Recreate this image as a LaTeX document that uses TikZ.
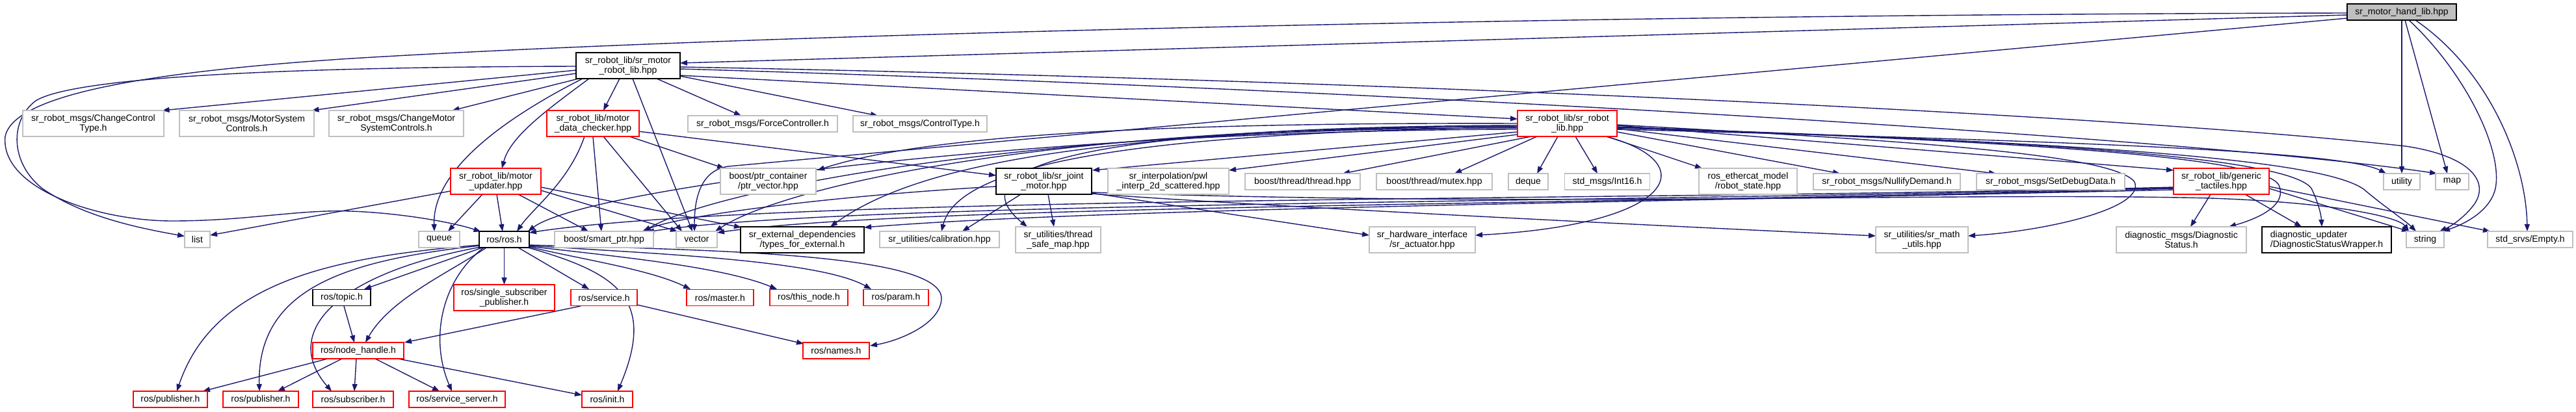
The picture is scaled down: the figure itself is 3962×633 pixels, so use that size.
\documentclass[tikz,border=0pt]{standalone}
\usepackage{fontspec}
\setmainfont{Liberation Sans}
\usetikzlibrary{arrows.meta,calc}
\definecolor{edgec}{HTML}{191970}
\definecolor{gborder}{HTML}{BFBFBF}
\pgfdeclarelayer{bg}
\pgfsetlayers{bg,main}
\tikzset{
 box/.style={rectangle, inner sep=0pt, line width=1.4pt, fill=white, align=center, font=\fontsize{14}{15}\selectfont},
 gbox/.style={box, draw=gborder},
 blkbox/.style={box, draw=black},
 redbox/.style={box, draw=red},
 rootbox/.style={box, draw=black, fill=gborder},
 one/.style={minimum height=25pt},
 two/.style={minimum height=40pt},
 arr/.style={draw=edgec, line width=1.4pt, -{Triangle[length=11pt,width=8pt]}},
}
\begin{document}
\begin{tikzpicture}[x=1pt,y=-1pt]
\useasboundingbox (0,0) rectangle (3962,633);
% row 0
\node[rootbox,one,minimum width=168pt] (hand) at (3694,18.5) {sr\_motor\_hand\_lib.hpp};
% row 1
\node[blkbox,two,minimum width=160pt] (mrl) at (966,101) {sr\_robot\_lib/sr\_motor\\\_robot\_lib.hpp};
% row 2
\node[gbox,two,minimum width=217pt] (cct) at (143.5,190) {sr\_robot\_msgs/ChangeControl\\Type.h};
\node[gbox,two,minimum width=207pt] (msc) at (379.5,190) {sr\_robot\_msgs/MotorSystem\\Controls.h};
\node[gbox,two,minimum width=207pt] (cmsc) at (609.5,190) {sr\_robot\_msgs/ChangeMotor\\SystemControls.h};
\node[redbox,two,minimum width=142pt] (mdc) at (912,190) {sr\_robot\_lib/motor\\\_data\_checker.hpp};
\node[gbox,one,minimum width=230pt] (force) at (1173,190.5) {sr\_robot\_msgs/ForceController.h};
\node[gbox,one,minimum width=206pt] (ctype) at (1415,190.5) {sr\_robot\_msgs/ControlType.h};
\node[redbox,two,minimum width=153pt] (srl) at (2410.5,190) {sr\_robot\_lib/sr\_robot\\\_lib.hpp};
% row 3
\node[redbox,two,minimum width=139pt] (mup) at (762.5,279) {sr\_robot\_lib/motor\\\_updater.hpp};
\node[gbox,two,minimum width=147pt] (ptrv) at (1181.5,279) {boost/ptr\_container\\/ptr\_vector.hpp};
\node[blkbox,two,minimum width=147pt] (sjm) at (1605.5,279) {sr\_robot\_lib/sr\_joint\\\_motor.hpp};
\node[gbox,two,minimum width=186pt] (pwl) at (1797,279) {sr\_interpolation/pwl\\\_interp\_2d\_scattered.hpp};
\node[gbox,one,minimum width=177pt] (thr) at (2003.5,279.5) {boost/thread/thread.hpp};
\node[gbox,one,minimum width=178pt] (mtx) at (2206,279.5) {boost/thread/mutex.hpp};
\node[gbox,one,minimum width=61pt] (deq) at (2350.5,279.5) {deque};
\node[gbox,one,minimum width=131pt] (i16) at (2472,279.5) {std\_msgs/Int16.h};
\node[gbox,two,minimum width=151pt] (rst) at (2688.5,279) {ros\_ethercat\_model\\/robot\_state.hpp};
\node[gbox,one,minimum width=226pt] (nul) at (2902,279.5) {sr\_robot\_msgs/NullifyDemand.h};
\node[gbox,one,minimum width=228pt] (sdd) at (3154,279.5) {sr\_robot\_msgs/SetDebugData.h};
\node[redbox,two,minimum width=147pt] (gt) at (3416.5,279) {sr\_robot\_lib/generic\\\_tactiles.hpp};
\node[gbox,one,minimum width=56pt] (uti) at (3694,279.5) {utility};
\node[gbox,one,minimum width=51pt] (map) at (3771.5,279.5) {map};
% row 4
\node[gbox,one,minimum width=39pt] (list) at (303.5,368.5) {list};
\node[gbox,one,minimum width=63pt] (queue) at (675.5,368.5) {queue};
\node[blkbox,one,minimum width=77pt] (ros) at (775.5,368.5) {ros/ros.h};
\node[gbox,one,minimum width=152pt] (smp) at (929,368.5) {boost/smart\_ptr.hpp};
\node[gbox,one,minimum width=63pt] (vec) at (1071.5,368.5) {vector};
\node[blkbox,two,minimum width=190pt] (tfe) at (1234,369) {sr\_external\_dependencies\\/types\_for\_external.h};
\node[gbox,one,minimum width=184pt] (cal) at (1445,368.5) {sr\_utilities/calibration.hpp};
\node[gbox,two,minimum width=131pt] (tsm) at (1627.5,369) {sr\_utilities/thread\\\_safe\_map.hpp};
\node[gbox,two,minimum width=163pt] (act) at (2187.5,369) {sr\_hardware\_interface\\/sr\_actuator.hpp};
\node[gbox,two,minimum width=142pt] (smu) at (2956,369) {sr\_utilities/sr\_math\\\_utils.hpp};
\node[gbox,two,minimum width=200pt] (dgs) at (3355,369) {diagnostic\_msgs/Diagnostic\\Status.h};
\node[blkbox,two,minimum width=199pt,align=left] (dsw) at (3578.5,369) {diagnostic\_updater\\/DiagnosticStatusWrapper.h};
\node[gbox,one,minimum width=58pt] (str) at (3730,368.5) {string};
\node[gbox,one,minimum width=131pt] (emp) at (3891.5,368.5) {std\_srvs/Empty.h};
% row 5
\node[blkbox,one,minimum width=89pt] (topic) at (525.5,458) {ros/topic.h};
\node[redbox,two,minimum width=155pt] (ssp) at (775.5,458) {ros/single\_subscriber\\\_publisher.h};
\node[redbox,one,minimum width=102pt] (srv) at (929,458) {ros/service.h};
\node[redbox,one,minimum width=103pt] (mst) at (1107.5,458) {ros/master.h};
\node[redbox,one,minimum width=120pt] (thn) at (1244,458) {ros/this\_node.h};
\node[redbox,one,minimum width=100pt] (prm) at (1378,458) {ros/param.h};
% row 6
\node[redbox,one,minimum width=140pt] (nh) at (551,539.5) {ros/node\_handle.h};
\node[redbox,one,minimum width=102pt] (nms) at (1286,539.5) {ros/names.h};
% row 7
\node[redbox,one,minimum width=114pt] (pub1) at (262,614.5) {ros/publisher.h};
\node[redbox,one,minimum width=116pt] (pub2) at (401,614.5) {ros/publisher.h};
\node[redbox,one,minimum width=124pt] (sub) at (543,614.5) {ros/subscriber.h};
\node[redbox,one,minimum width=148pt] (ssv) at (703,614.5) {ros/service\_server.h};
\node[redbox,one,minimum width=78pt] (init) at (934,614.5) {ros/init.h};

\begin{pgfonlayer}{bg}
% from sr_motor_hand_lib
\draw[arr] ($(hand)+(-84,4.5)$) -- ($(mrl)+(80,-4)$);
\draw[arr] ($(hand)+(-84,1.5)$) .. controls (2500,22) and (1200,50) .. (540,90) .. controls (200,112) and (20,150) .. (8,210) .. controls (0,290) and (150,340) .. (265,340) .. controls (380,340) and (460,322) .. (540,325) .. controls (620,328) and (700,343) .. ($(ros)+(-36,-12)$);
\draw[arr] ($(hand)+(-84,9.5)$) -- (1120,256) .. controls (1080,262) and (1068,300) .. ($(vec)+(-3.5,-12.5)$);
\draw[arr] ($(hand)+(0,12.5)$) -- ($(uti)+(0,-12.5)$);
\draw[arr] ($(hand)+(5,12.5)$) -- ($(map)+(-7.5,-12.5)$);
\draw[arr] ($(hand)+(11,12.5)$) .. controls (3790,110) and (3850,230) .. (3838,290) .. controls (3830,325) and (3790,345) .. ($(str)+(27,-12.5)$);
\draw[arr] ($(hand)+(21,12.5)$) .. controls (3830,110) and (3885,250) .. ($(emp)+(-4.5,-12.5)$);
% from sr_motor_robot_lib
\draw[arr] ($(mrl)+(-80,1)$) .. controls (500,103) and (120,115) .. (55,155) .. controls (15,185) and (15,250) .. (65,290) .. controls (130,335) and (220,352) .. ($(list)+(-19.5,-5)$);
\draw[arr] ($(mrl)+(-80,7)$) -- ($(cct)+(106,-20)$);
\draw[arr] ($(mrl)+(-80,12)$) -- ($(msc)+(100,-20)$);
\draw[arr] ($(mrl)+(-76,20)$) -- ($(cmsc)+(86,-20)$);
\draw[arr] ($(mrl)+(-13,20)$) -- ($(mdc)+(16,-20)$);
\draw[arr] ($(mrl)+(-60,20)$) .. controls (840,170) and (785,210) .. ($(mup)+(9.5,-20)$);
\draw[arr] ($(mrl)+(-70,20)$) .. controls (780,180) and (665,260) .. ($(queue)+(-7.5,-12.5)$);
\draw[arr] ($(mrl)+(7,20)$) -- ($(vec)+(-6.5,-12.5)$);
\draw[arr] ($(mrl)+(44,20)$) -- ($(force)+(-33,-12.5)$);
\draw[arr] ($(mrl)+(80,16)$) -- ($(ctype)+(-65,-12.5)$);
\draw[arr] ($(mrl)+(80,15)$) -- ($(srl)+(-76.5,-7)$);
\draw[arr] ($(mrl)+(80,2)$) .. controls (2200,125) and (3300,180) .. (3700,225) .. controls (3800,240) and (3830,280) .. (3805,315) .. controls (3790,335) and (3770,348) .. ($(str)+(22,-12.5)$);
\draw[arr] ($(mrl)+(80,5)$) .. controls (2200,140) and (3400,215) .. ($(map)+(-23.5,-12.5)$);
% from motor_data_checker
\draw[arr] ($(mdc)+(-13,20)$) .. controls (875,280) and (820,320) .. ($(ros)+(19.5,-12.5)$);
\draw[arr] ($(mdc)+(0,20)$) -- ($(smp)+(-4,-12.5)$);
\draw[arr] ($(mdc)+(16,20)$) -- ($(vec)+(-22.5,-12.5)$);
\draw[arr] ($(mdc)+(56,20)$) -- ($(ptrv)+(-67.5,-20)$);
\draw[arr] ($(mdc)+(69,12)$) -- ($(sjm)+(-73.5,-9)$);
% from motor_updater
\draw[arr] ($(mup)+(-69.5,15)$) -- ($(list)+(19.5,-6.5)$);
\draw[arr] ($(mup)+(-20.5,20)$) -- ($(queue)+(13.5,-12.5)$);
\draw[arr] ($(mup)+(1.5,20)$) -- ($(ros)+(-2.5,-12.5)$);
\draw[arr] ($(mup)+(34.5,20)$) -- ($(smp)+(-24,-12.5)$);
\draw[arr] ($(mup)+(69.5,14)$) -- ($(vec)+(-29.5,-12.5)$);
\draw[arr] ($(mup)+(69.5,9)$) -- ($(tfe)+(-94,-19)$);
% from sr_joint_motor
\draw[arr] ($(sjm)+(-35.5,20)$) -- ($(cal)+(35,-12.5)$);
\draw[arr] ($(sjm)+(6.5,20)$) -- ($(tsm)+(-6.5,-20)$);
\draw[arr] ($(sjm)+(73.5,18)$) -- ($(act)+(-81.5,-7)$);
\draw[arr] ($(sjm)+(73.5,19)$) .. controls (1900,315) and (2500,345) .. ($(smu)+(-71,-6)$);
\draw[arr] ($(sjm)+(-73.5,8)$) .. controls (1300,300) and (1050,330) .. ($(smp)+(59,-12.5)$);
\draw[arr] ($(sjm)+(73.5,17)$) .. controls (2400,320) and (3000,295) .. (3400,305) .. controls (3600,312) and (3690,335) .. ($(str)+(-25,-12.5)$);
% from sr_robot_lib
\draw[arr] ($(srl)+(-76.5,0)$) .. controls (1700,188) and (1400,215) .. ($(ptrv)+(75.5,-17)$);
\draw[arr] ($(srl)+(-76.5,13)$) -- ($(sjm)+(74.5,-17)$);
\draw[arr] ($(srl)+(-76.5,17)$) -- ($(pwl)+(93,-17)$);
\draw[arr] ($(srl)+(-55.5,20)$) -- ($(thr)+(61.5,-12.5)$);
\draw[arr] ($(srl)+(-46.5,20)$) -- ($(mtx)+(31,-12.5)$);
\draw[arr] ($(srl)+(-14.5,20)$) -- ($(deq)+(13.5,-12.5)$);
\draw[arr] ($(srl)+(12.5,20)$) -- ($(i16)+(-15,-12.5)$);
\draw[arr] ($(srl)+(60.5,20)$) -- ($(rst)+(-70.5,-20)$);
\draw[arr] ($(srl)+(76.5,13)$) -- ($(nul)+(-72,-12.5)$);
\draw[arr] ($(srl)+(76.5,8)$) -- ($(sdd)+(-84,-12.5)$);
\draw[arr] ($(srl)+(76.5,3)$) -- ($(gt)+(-73.5,-17)$);
\draw[arr] ($(srl)+(59.5,20)$) .. controls (2620,250) and (2580,345) .. ($(act)+(81.5,-7)$);
\draw[arr] ($(srl)+(76.5,2)$) .. controls (2900,215) and (3250,235) .. (3283,280) .. controls (3300,320) and (3150,355) .. ($(smu)+(71,-6)$);
\draw[arr] ($(srl)+(76.5,5)$) .. controls (3000,215) and (3480,235) .. (3505,285) .. controls (3520,320) and (3460,340) .. ($(dgs)+(73,-20)$);
\draw[arr] ($(srl)+(76.5,6)$) .. controls (3100,215) and (3520,240) .. (3555,290) .. controls (3565,310) and (3570,330) .. ($(dsw)+(-7.5,-20)$);
\draw[arr] ($(srl)+(76.5,7)$) .. controls (3200,218) and (3590,245) .. (3640,295) .. controls (3670,320) and (3700,340) .. ($(str)+(-14,-12.5)$);
\draw[arr] ($(srl)+(76.5,9)$) .. controls (3100,215) and (3600,230) .. ($(uti)+(-24,-12.5)$);
\draw[arr] ($(srl)+(-76.5,9)$) .. controls (1600,200) and (900,290) .. ($(ros)+(36.5,-12.5)$);
\draw[arr] ($(srl)+(-76.5,7)$) .. controls (1600,195) and (1100,290) .. ($(smp)+(61,-12.5)$);
\draw[arr] ($(srl)+(-76.5,5)$) .. controls (1600,192) and (1200,290) .. ($(vec)+(28.5,-12.5)$);
\draw[arr] ($(srl)+(-76.5,4)$) .. controls (1650,200) and (1400,260) .. ($(tfe)+(43,-20)$);
\draw[arr] ($(srl)+(-76.5,6)$) .. controls (1650,205) and (1470,270) .. ($(cal)+(3,-12.5)$);
\draw[arr] ($(srl)+(-76.5,3)$) .. controls (1650,195) and (1470,260) .. ($(tsm)+(-47.5,-20)$);
% from generic_tactiles
\draw[arr] ($(gt)+(-16.5,20)$) -- ($(dgs)+(14,-20)$);
\draw[arr] ($(gt)+(36.5,20)$) -- ($(dsw)+(-38.5,-20)$);
\draw[arr] ($(gt)+(73.5,11)$) -- ($(str)+(-25,-12.5)$);
\draw[arr] ($(gt)+(73.5,8)$) -- ($(emp)+(-61.5,-12.5)$);
\draw[arr] ($(gt)+(-73.5,13)$) .. controls (2600,310) and (1700,320) .. ($(tfe)+(95,-19)$);
\draw[arr] ($(gt)+(-73.5,9)$) .. controls (2500,310) and (1200,300) .. ($(ros)+(38.5,-10.5)$);
\draw[arr] ($(gt)+(-73.5,10)$) .. controls (2500,312) and (1300,310) .. ($(smp)+(66,-11.5)$);
\draw[arr] ($(gt)+(-73.5,11)$) .. controls (2500,315) and (1400,315) .. ($(vec)+(31.5,-10.5)$);
% from ros/ros.h
\draw[arr] ($(ros)+(-33.5,12.5)$) -- ($(topic)+(34.5,-13)$);
\draw[arr] ($(ros)+(0,12.5)$) -- ($(ssp)+(0,-20)$);
\draw[arr] ($(ros)+(21.5,12.5)$) -- ($(srv)+(-23,-13)$);
\draw[arr] ($(ros)+(-27.5,12.5)$) .. controls (690,420) and (600,460) .. ($(nh)+(11,-12.5)$);
\draw[arr] ($(ros)+(-31.5,12.5)$) .. controls (680,430) and (660,520) .. ($(ssv)+(-8,-12.5)$);
\draw[arr] ($(ros)+(-35.5,11.5)$) .. controls (520,420) and (430,510) .. ($(sub)+(-33,-12.5)$);
\draw[arr] ($(ros)+(-37.5,9.5)$) .. controls (540,400) and (395,440) .. ($(pub2)+(-2,-12.5)$);
\draw[arr] ($(ros)+(-37.5,8.5)$) .. controls (520,395) and (330,430) .. ($(pub1)+(10,-12.5)$);
\draw[arr] ($(ros)+(36.5,12.5)$) .. controls (950,420) and (1010,460) .. ($(init)+(16,-12.5)$);
\draw[arr] ($(ros)+(38.5,11.5)$) .. controls (900,400) and (1000,415) .. ($(mst)+(-45.5,-13)$);
\draw[arr] ($(ros)+(38.5,10.5)$) .. controls (950,395) and (1110,410) .. ($(thn)+(-49,-13)$);
\draw[arr] ($(ros)+(38.5,9.5)$) .. controls (1000,390) and (1260,400) .. ($(prm)+(-38,-13)$);
\draw[arr] ($(ros)+(38.5,8.5)$) .. controls (1100,385) and (1450,390) .. (1448,460) .. controls (1446,500) and (1380,525) .. ($(nms)+(52,-7.5)$);
% lower ros headers
\draw[arr] ($(srv)+(-36,13)$) -- ($(nh)+(71,-12.5)$);
\draw[arr] ($(srv)+(51,11)$) -- ($(nms)+(-50,-10.5)$);
\draw[arr] ($(topic)+(3.5,13)$) -- ($(nh)+(-6,-12.5)$);
\draw[arr] ($(nh)+(-47,12.5)$) -- ($(pub1)+(50,-12.5)$);
\draw[arr] ($(nh)+(-25,12.5)$) -- ($(pub2)+(26,-12.5)$);
\draw[arr] ($(nh)+(-3,12.5)$) -- ($(sub)+(2,-12.5)$);
\draw[arr] ($(nh)+(26,12.5)$) -- ($(ssv)+(-27,-12.5)$);
\draw[arr] ($(nh)+(61,12.5)$) -- ($(init)+(-39,-6.5)$);
\end{pgfonlayer}
\end{tikzpicture}
\end{document}
